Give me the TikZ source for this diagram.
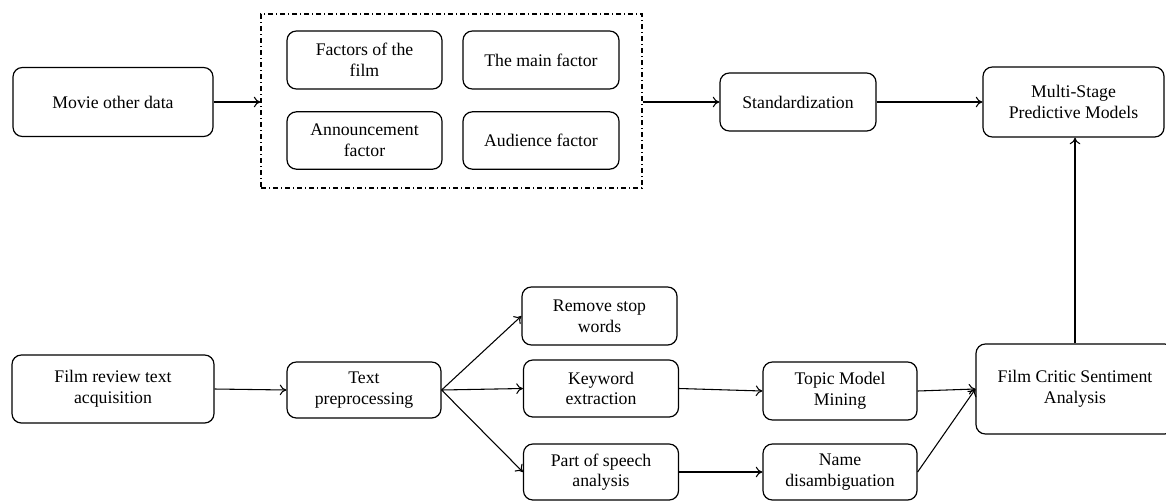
\documentclass[tikz,border=0pt]{standalone}
\usepackage{fontspec}
\setmainfont{Liberation Serif}
\usetikzlibrary{arrows.meta}
\begin{document}
\begin{tikzpicture}[x=0.75pt,y=-0.75pt,
  box/.style={draw, line width=0.9pt, rounded corners=7pt, align=center,
    inner sep=0pt, font=\fontsize{13.3}{15.5}\selectfont},
  grpbox/.style={draw, line width=0.8pt, inner sep=0pt,
    dash pattern=on 4pt off 2pt on 1pt off 2pt},
  arr/.style={line width=0.8pt, -{To[length=5pt,width=8pt]}}]
\useasboundingbox (0,0) rectangle (1166,500);
% top row
\node[box, minimum width=150pt, minimum height=51.75pt] (movie) at (113,102) {Movie other data};
\node[grpbox, minimum width=285.75pt, minimum height=130.5pt] (grp) at (451.5,101) {};
\node[box, minimum width=116.25pt, minimum height=43.5pt] (f1) at (364.5,60) {Factors of the\\film};
\node[box, minimum width=117pt, minimum height=43.5pt] (f2) at (541,60) {The main factor};
\node[box, minimum width=116.25pt, minimum height=43pt] (f3) at (364.5,140.5) {Announcement\\factor};
\node[box, minimum width=117pt, minimum height=43pt] (f4) at (541,140.5) {Audience factor};
\node[box, minimum width=117pt, minimum height=43.5pt] (std) at (798,102) {Standardization};
\node[box, minimum width=135.75pt, minimum height=52.5pt] (msp) at (1073.5,102) {Multi-Stage\\Predictive Models};
% bottom row
\node[box, minimum width=151.5pt, minimum height=51pt] (frt) at (113,389) {Film review text\\acquisition};
\node[box, minimum width=115.5pt, minimum height=42pt] (tp) at (364,390) {Text\\preprocessing};
\node[box, minimum width=116.25pt, minimum height=43.5pt] (rsw) at (599.5,316) {Remove stop\\words};
\node[box, minimum width=116.25pt, minimum height=42.75pt] (ke) at (601,388.5) {Keyword\\extraction};
\node[box, minimum width=116.25pt, minimum height=42pt] (pos) at (601,472) {Part of speech\\analysis};
\node[box, minimum width=115.5pt, minimum height=43.5pt] (tmm) at (840,391) {Topic Model\\Mining};
\node[box, minimum width=115.5pt, minimum height=42pt] (nd) at (840,472) {Name\\disambiguation};
\node[box, minimum width=148.5pt, minimum height=67.5pt] (fcs) at (1075,389) {Film Critic Sentiment\\Analysis};
% connectors
\draw[arr] (movie.east) -- (grp.west |- movie.east);
\draw[arr] (grp.east |- std.west) -- (std.west);
\draw[arr] (std.east) -- (msp.west);
\draw[arr] (fcs.north) -- (fcs.north |- msp.south);
\draw[arr] (frt.east) -- (tp.west);
\draw[arr] (tp.east) -- (rsw.west);
\draw[arr] (tp.east) -- (ke.west);
\draw[arr] (tp.east) -- (pos.west);
\draw[arr] (ke.east) -- (tmm.west);
\draw[arr] (pos.east) -- (nd.west);
\draw[arr] (tmm.east) -- (fcs.west);
\draw[arr] (nd.east) -- (fcs.west);
\end{tikzpicture}
\end{document}
